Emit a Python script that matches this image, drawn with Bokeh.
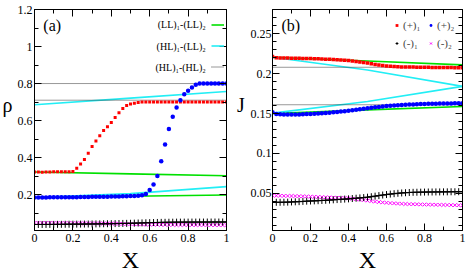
from bokeh.plotting import figure
from bokeh.layouts import row
from bokeh.models import (Range1d, LinearAxis, Label, Legend, LegendItem,
                          FixedTicker, CustomJSTickFormatter)
from bokeh.core.properties import value
from bokeh.embed import file_html
from bokeh.resources import INLINE

FONT = "'Liberation Serif', 'Times New Roman', 'DejaVu Serif', serif"
H = 277

# ---------------- data ----------------
x_grid = [0.0, 0.02, 0.04, 0.06, 0.08, 0.1, 0.12, 0.14, 0.16, 0.18,
          0.2, 0.22, 0.24, 0.26, 0.28, 0.3, 0.32, 0.34, 0.36, 0.38,
          0.4, 0.42, 0.44, 0.46, 0.48, 0.5, 0.52, 0.54, 0.56, 0.58,
          0.6, 0.62, 0.64, 0.66, 0.68, 0.7, 0.72, 0.74, 0.76, 0.78,
          0.8, 0.82, 0.84, 0.86, 0.88, 0.9, 0.92, 0.94, 0.96, 0.98, 1.0]

# panel (a): densities
rho_plus1 = [0.322, 0.322, 0.321, 0.322, 0.322, 0.323, 0.323, 0.323, 0.324, 0.324,
             0.325, 0.342, 0.365, 0.39, 0.424, 0.46, 0.49, 0.518, 0.546, 0.567,
             0.59, 0.616, 0.642, 0.665, 0.681, 0.69, 0.694, 0.697, 0.70, 0.70,
             0.70, 0.70, 0.70, 0.70, 0.70, 0.70, 0.70, 0.70, 0.70, 0.70,
             0.70, 0.70, 0.70, 0.70, 0.70, 0.70, 0.70, 0.70, 0.70, 0.70, 0.70]
rho_plus2 = [0.184, 0.184, 0.184, 0.184, 0.185, 0.185, 0.185, 0.185, 0.186, 0.186,
             0.186, 0.186, 0.187, 0.187, 0.187, 0.188, 0.188, 0.188, 0.189, 0.189,
             0.19, 0.19, 0.19, 0.191, 0.191, 0.192, 0.193, 0.194, 0.197, 0.203,
             0.225, 0.255, 0.30, 0.38, 0.47, 0.555, 0.62, 0.67, 0.71, 0.742,
             0.761, 0.779, 0.794, 0.80, 0.80, 0.80, 0.80, 0.80, 0.80, 0.80, 0.80]
minus1 = [0.0385, 0.0386, 0.0386, 0.0387, 0.0388, 0.0390, 0.0392, 0.0394, 0.0397, 0.0400,
          0.0402, 0.0404, 0.0406, 0.0409, 0.0411, 0.0414, 0.0417, 0.0420, 0.0423, 0.0426,
          0.0429, 0.0433, 0.0437, 0.0441, 0.0445, 0.0450, 0.0456, 0.0463, 0.0470, 0.0477,
          0.0483, 0.0489, 0.0494, 0.0499, 0.0503, 0.0506, 0.0509, 0.0511, 0.0512, 0.0513,
          0.0514, 0.0515, 0.0515, 0.0516, 0.0516, 0.0517, 0.0517, 0.0518, 0.0518, 0.0519, 0.0519]
minus2 = [0.0470, 0.0469, 0.0468, 0.0467, 0.0466, 0.0465, 0.0464, 0.0462, 0.0461, 0.0459,
          0.0457, 0.0455, 0.0453, 0.0451, 0.0449, 0.0447, 0.0445, 0.0443, 0.0441, 0.0439,
          0.0436, 0.0431, 0.0425, 0.0419, 0.0413, 0.0407, 0.0400, 0.0394, 0.0389, 0.0384,
          0.0380, 0.0376, 0.0373, 0.0370, 0.0367, 0.0365, 0.0363, 0.0362, 0.0361, 0.0359,
          0.0358, 0.0357, 0.0356, 0.0355, 0.0354, 0.0353, 0.0352, 0.0351, 0.0350, 0.0349, 0.0348]

# panel (b): currents
J_plus1 = [0.2215, 0.2200, 0.2198, 0.2196, 0.2195, 0.2194, 0.2193, 0.2192, 0.2191, 0.2190,
           0.2189, 0.2188, 0.2186, 0.2184, 0.2182, 0.2180, 0.2178, 0.2175, 0.2172, 0.2168,
           0.2164, 0.2158, 0.2152, 0.2146, 0.2140, 0.2134, 0.2125, 0.2116, 0.2108, 0.2101,
           0.2096, 0.2092, 0.2089, 0.2087, 0.2085, 0.2084, 0.2083, 0.2082, 0.2081, 0.2080,
           0.2079, 0.2079, 0.2078, 0.2078, 0.2077, 0.2077, 0.2076, 0.2076, 0.2075, 0.2075, 0.2074]
J_plus2 = [0.1515, 0.1495, 0.1490, 0.1488, 0.1487, 0.1487, 0.1488, 0.1489, 0.1491, 0.1493,
           0.1495, 0.1498, 0.1501, 0.1504, 0.1507, 0.1511, 0.1515, 0.1519, 0.1524, 0.1529,
           0.1535, 0.1541, 0.1547, 0.1553, 0.1559, 0.1565, 0.1571, 0.1577, 0.1583, 0.1588,
           0.1593, 0.1597, 0.1601, 0.1604, 0.1607, 0.1610, 0.1612, 0.1614, 0.1616, 0.1618,
           0.1619, 0.1621, 0.1622, 0.1623, 0.1624, 0.1625, 0.1626, 0.1627, 0.1628, 0.1629, 0.1630]
J_minus1 = minus1
J_minus2 = minus2

# mean-field lines
line_x = [0.0, 0.5, 1.0]
rho_LL_upper = [0.322, 0.312, 0.302]
rho_LL_lower = [0.184, 0.191, 0.198]
rho_HL_upper = [0.685, 0.721, 0.757]
rho_HL_lower = [0.184, 0.205, 0.243]
rho_HH_upper = [0.80, 0.80, 0.80]
rho_HH_lower = [0.71, 0.71, 0.71]

J_LL_upper = [0.2206, 0.2158, 0.2110]
J_LL_lower = [0.1500, 0.1545, 0.1588]
J_HL_upper = [0.2206, 0.2045, 0.1840]
J_HL_lower = [0.1505, 0.1650, 0.1840]
J_HH_upper = [0.208, 0.208, 0.208]
J_HH_lower = [0.161, 0.161, 0.161]

x_ticks = [0, 0.2, 0.4, 0.6, 0.8, 1.0]
x_minor = [0.1, 0.3, 0.5, 0.7, 0.9]
ya_ticks = [0.2, 0.4, 0.6, 0.8, 1.0, 1.2]
ya_minor = [0.1, 0.3, 0.5, 0.7, 0.9, 1.1]
yb_ticks = [0.05, 0.1, 0.15, 0.2, 0.25]
yb_minor = [0.01, 0.02, 0.03, 0.04, 0.06, 0.07, 0.08, 0.09, 0.11, 0.12, 0.13, 0.14,
            0.16, 0.17, 0.18, 0.19, 0.21, 0.22, 0.23, 0.24, 0.26, 0.27]

GREEN = "#00e000"
CYAN = "#22eef5"
DOT = "#333333"

fmt_code = "return String(Math.round(tick*1000)/1000);"


def style_fig(p, yt, ym, ystandoff):
    p.outline_line_color = "black"
    p.xgrid.grid_line_color = None
    p.ygrid.grid_line_color = None
    p.add_layout(LinearAxis(), "right")
    p.add_layout(LinearAxis(), "above")
    for ax in p.axis:
        is_y = ax in p.yaxis
        ax.ticker = FixedTicker(ticks=yt if is_y else x_ticks,
                                minor_ticks=ym if is_y else x_minor)
        ax.formatter = CustomJSTickFormatter(code=fmt_code)
        ax.axis_line_color = "black"
        ax.major_tick_line_color = "black"
        ax.minor_tick_line_color = "black"
        ax.major_tick_in = 7
        ax.major_tick_out = 0
        ax.minor_tick_in = 4
        ax.minor_tick_out = 0
        ax.major_label_text_font = FONT
        ax.major_label_text_font_size = "12px"
        ax.major_label_text_color = "black"
        ax.major_label_standoff = 3
    p.left[0].major_label_standoff = ystandoff
    for ax in (p.right[0], p.above[0]):
        ax.formatter = CustomJSTickFormatter(code="return '';")
        ax.major_label_text_font_size = "0px"
        ax.major_label_text_color = None
        ax.major_label_standoff = 0
    xa = p.below[0]
    xa.axis_label = "X"
    xa.axis_label_text_font = FONT
    xa.axis_label_text_font_size = "24px"
    xa.axis_label_text_font_style = "normal"
    xa.axis_label_text_color = "black"
    xa.axis_label_standoff = 2


def lab(p, text, x, y, size, align="left"):
    p.add_layout(Label(x=x, y=y, text=text, text_font=FONT, text_font_size=size,
                       text_align=align, text_baseline="middle", text_color="black"))


def label_strip(width, text):
    # narrow strip holding an upright y-axis title
    s = figure(width=width, height=H, x_range=Range1d(0, 1), y_range=Range1d(0, H),
               output_backend="svg", toolbar_location=None,
               x_axis_location=None, y_axis_location=None,
               min_border_left=0, min_border_right=0, min_border_top=0, min_border_bottom=0)
    s.outline_line_color = None
    s.grid.visible = False
    s.text(x=[0.5], y=[157], text=[text], text_font=value(FONT),
           text_font_size=value("20px"), text_align="center", text_baseline="middle",
           text_color="black")
    return s


# ---------------- panel (a) ----------------
rho_strip = label_strip(14, "\u03c1")

pa = figure(width=220, height=H, x_range=Range1d(0, 1), y_range=Range1d(0.006, 1.2),
            output_backend="svg", toolbar_location=None,
            min_border_left=17, min_border_right=8, min_border_top=9, min_border_bottom=47)
style_fig(pa, ya_ticks, ya_minor, 2)

ga1 = pa.line(line_x, rho_LL_upper, line_color=GREEN, line_width=1.6)
pa.line(line_x, rho_LL_lower, line_color=GREEN, line_width=1.6)
ca1 = pa.line(line_x, rho_HL_upper, line_color=CYAN, line_width=1.6)
pa.line(line_x, rho_HL_lower, line_color=CYAN, line_width=1.6)
da1 = pa.line(line_x, rho_HH_upper, line_color=DOT, line_width=1, line_dash="1 1")
pa.line(line_x, rho_HH_lower, line_color=DOT, line_width=1, line_dash="1 1")

pa.scatter(x_grid, minus2, marker="x", size=5, line_color="#ff00ff", line_width=1)
pa.line(x_grid, minus1, line_color="black", line_width=1)
pa.scatter(x_grid, minus1, marker="cross", size=7, line_color="black", line_width=1)
pa.scatter(x_grid, rho_plus1, marker="square", size=3, fill_color="red", line_color=None)
pa.scatter(x_grid, rho_plus2, marker="circle", size=4.5, fill_color="blue", line_color=None)

leg_a = Legend(items=[LegendItem(label=" ", renderers=[ga1]),
                      LegendItem(label=" ", renderers=[ca1]),
                      LegendItem(label=" ", renderers=[da1])],
               location=(177, 153), glyph_width=13, glyph_height=21, label_height=21,
               label_standoff=0, spacing=0, padding=0, margin=0,
               background_fill_alpha=0, border_line_alpha=0,
               label_text_font=FONT, label_text_font_size="10px")
pa.add_layout(leg_a)

lab(pa, "(LL)\u2081-(LL)\u2082", 0.892, 1.117, "10px", align="right")
lab(pa, "(HL)\u2081-(LL)\u2082", 0.892, 1.0, "10px", align="right")
lab(pa, "(HL)\u2081-(HL)\u2082", 0.892, 0.885, "10px", align="right")
lab(pa, "(a)", 0.046, 1.111, "16px")

# ---------------- panel (b) ----------------
J_strip = label_strip(13, "J")

pb = figure(width=224, height=H, x_range=Range1d(0, 1), y_range=Range1d(0.0032, 0.2805),
            output_backend="svg", toolbar_location=None,
            min_border_left=22, min_border_right=9, min_border_top=9, min_border_bottom=47)
style_fig(pb, yb_ticks, yb_minor, 1)

pb.line(line_x, J_LL_upper, line_color=GREEN, line_width=1.6)
pb.line(line_x, J_LL_lower, line_color=GREEN, line_width=1.6)
pb.line(line_x, J_HL_upper, line_color=CYAN, line_width=1.6)
pb.line(line_x, J_HL_lower, line_color=CYAN, line_width=1.6)
pb.line(line_x, J_HH_upper, line_color=DOT, line_width=1, line_dash="1 1")
pb.line(line_x, J_HH_lower, line_color=DOT, line_width=1, line_dash="1 1")

rm2 = pb.scatter(x_grid, J_minus2, marker="x", size=5, line_color="#ff00ff", line_width=1)
pb.line(x_grid, J_minus1, line_color="black", line_width=1)
rm1 = pb.scatter(x_grid, J_minus1, marker="cross", size=7, line_color="black", line_width=1)
rp1 = pb.scatter(x_grid, J_plus1, marker="square", size=3.5, fill_color="red", line_color=None)
rp2 = pb.scatter(x_grid, J_plus2, marker="circle", size=4.5, fill_color="blue", line_color=None)

leg_b = Legend(items=[LegendItem(label="(+)\u2081", renderers=[rp1]),
                      LegendItem(label="(+)\u2082", renderers=[rp2]),
                      LegendItem(label="(-)\u2081", renderers=[rm1]),
                      LegendItem(label="(-)\u2082", renderers=[rm2])],
               location=(121, 180), orientation="horizontal", nrows=2,
               glyph_width=7, glyph_height=14, label_height=14, label_standoff=3,
               spacing=4, padding=0, margin=0,
               background_fill_alpha=0, border_line_alpha=0,
               label_text_font=FONT, label_text_font_size="11px")
pb.add_layout(leg_b)

lab(pb, "(b)", 0.047, 0.2598, "16px")

layout = row(rho_strip, pa, J_strip, pb)
open("out.html", "w").write(file_html(layout, INLINE))
